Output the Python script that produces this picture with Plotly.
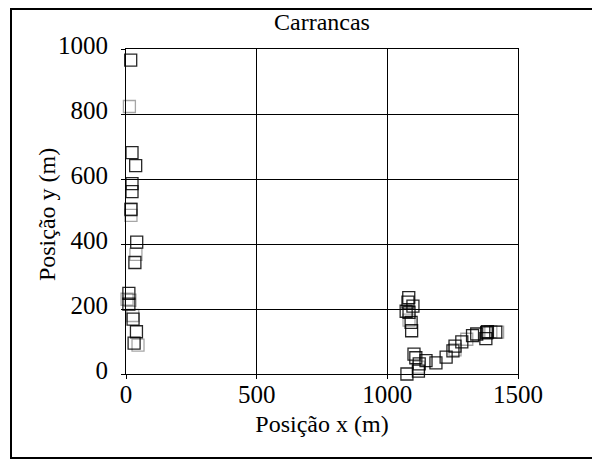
import plotly.graph_objects as go

# Positions (m)
x_pos = [18, 13, 23, 37, 23, 23, 19, 19, 19, 41, 38, 34,
         11, 15, 4, 27, 11, 26, 40, 31, 46,
         1082, 1079, 1098, 1072, 1083, 1083, 1091, 1093,
         1102, 1109, 1148, 1075, 1122, 1119, 1119, 1186, 1225, 1251, 1259,
         1259, 1285, 1304, 1326, 1342, 1377, 1383, 1396, 1415, 1422, 1380]
y_pos = [966, 823, 681, 641, 586, 561, 509, 488, 506, 406, 368, 343,
         248, 227, 230, 169, 215, 180, 130, 95, 89,
         235, 221, 209, 193, 190, 166, 159, 133,
         61, 50, 41, 0, 31, 9, 21, 34, 52, 71, 86,
         74, 99, 107, 118, 123, 109, 130, 130, 129, 129, 127]
faint = [0, 1, 0, 0, 0, 0, 1, 1, 0, 0, 1, 0,
         0, 1, 1, 0, 0, 1, 0, 0, 1,
         0, 0, 0, 0, 0, 1, 0, 0,
         0, 0, 0, 0, 0, 0, 1, 0, 0, 0, 0,
         1, 0, 1, 0, 0, 0, 0, 1, 0, 1, 0]

x_ticks = [0, 500, 1000, 1500]
y_ticks = [0, 200, 400, 600, 800, 1000]

colors = ["rgba(0,0,0,0.35)" if f else "rgba(0,0,0,0.85)" for f in faint]

font = "Liberation Serif, Times New Roman, serif"

fig = go.Figure(go.Scatter(
    x=x_pos, y=y_pos, mode="markers", cliponaxis=False,
    marker=dict(symbol="square-open", size=12, color=colors, line=dict(width=1.3)),
    showlegend=False,
))

fig.update_layout(
    width=600, height=460,
    margin=dict(l=118, r=90, t=41, b=94),
    paper_bgcolor="white", plot_bgcolor="white",
    font=dict(family=font, color="black", size=24),
    title=dict(text="Carrancas", x=0.5, xanchor="center", xref="paper",
               y=1 - 14 / 460, yanchor="middle", font=dict(size=24)),
    shapes=[dict(type="rect", xref="paper", yref="paper",
                 x0=(3 - 118) / 392, x1=(590 - 118) / 392,
                 y0=(366 - 450) / 325, y1=(366 - 1) / 325,
                 line=dict(color="black", width=2), layer="below")],
    annotations=[dict(text="Posição y (m)", textangle=-90, showarrow=False,
                      xref="paper", yref="paper", x=(39 - 118) / 392, y=0.489,
                      xanchor="center", yanchor="middle", font=dict(size=24))],
)

fig.update_xaxes(
    range=[0, 1500], tickvals=x_ticks, showgrid=True, gridcolor="black", gridwidth=1,
    showline=True, linecolor="black", linewidth=1, mirror=True,
    ticks="outside", ticklen=4, tickcolor="black", zeroline=False,
    tickfont=dict(size=25), ticklabelstandoff=-6,
    title=dict(text="Posição x (m)", font=dict(size=24), standoff=8),
)
fig.update_yaxes(
    range=[0, 1000], tickvals=y_ticks, showgrid=True, gridcolor="black", gridwidth=1,
    showline=True, linecolor="black", linewidth=1, mirror=True,
    ticks="outside", ticklen=4, tickcolor="black", zeroline=False,
    tickfont=dict(size=25), ticklabelshift=-4, ticklabelstandoff=8,
)

fig.write_html("out.html")
